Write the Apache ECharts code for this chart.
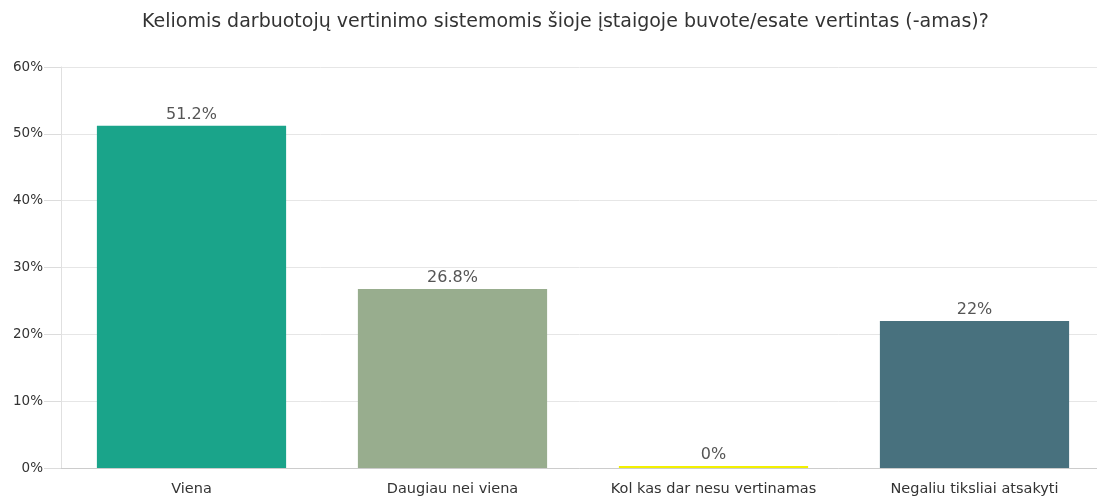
<!DOCTYPE html>
<html>
<head>
<meta charset="utf-8">
<script src="https://cdn.jsdelivr.net/npm/echarts@6/dist/echarts.min.js"></script>
<style>html,body{margin:0;padding:0;background:#fff}#c{width:1097px;height:499px}</style>
</head>
<body>
<div id="c"></div>
<script>
const titleText = 'Keliomis darbuotojų vertinimo sistemomis šioje įstaigoje buvote/esate vertintas (-amas)?';
const categories = ['Viena', 'Daugiau nei viena', 'Kol kas dar nesu vertinamas', 'Negaliu tiksliai atsakyti'];
const values = [51.2, 26.8, 0, 22];
const colors = ['#1aa48a', '#98ad8e', '#f2f000', '#48717e'];
const yTicks = [0, 10, 20, 30, 40, 50, 60];

const FONT = '"DejaVu Sans", Arial, sans-serif';
const chart = echarts.init(document.getElementById('c'));
chart.setOption({
  animation: false,
  textStyle: { fontFamily: FONT },
  title: {
    text: titleText, left: 142, top: 13, padding: 0,
    textStyle: { fontSize: 19, fontWeight: 'normal', color: '#333', fontFamily: FONT }
  },
  grid: { left: 61, width: 1044, top: 67, bottom: 31, containLabel: false, outerBoundsMode: 'none' },
  xAxis: {
    type: 'category', data: categories,
    axisLine: { lineStyle: { color: '#ccc' } },
    axisTick: { show: false },
    axisLabel: { interval: 0, hideOverlap: false, fontSize: 14.5, color: '#333', margin: 14, fontFamily: FONT }
  },
  yAxis: {
    type: 'value', min: yTicks[0], max: yTicks[yTicks.length - 1], interval: 10,
    axisLine: { show: true, lineStyle: { color: '#e0e0e0' } },
    axisTick: { show: true, length: 17, lineStyle: { color: '#dcdcdc' } },
    splitLine: { lineStyle: { color: '#e6e6e6' } },
    axisLabel: { fontSize: 13.5, color: '#333', margin: 18, fontFamily: FONT, formatter: v => v + '%' }
  },
  series: [{
    type: 'bar',
    barWidth: '72.5%',
    barMinHeight: 2,
    data: values.map((v, i) => ({ value: v, itemStyle: { color: colors[i] } })),
    label: { show: true, position: 'top', distance: 3, fontSize: 16, color: '#555', fontFamily: FONT, formatter: p => p.value + '%' }
  }]
});
</script>
</body>
</html>
